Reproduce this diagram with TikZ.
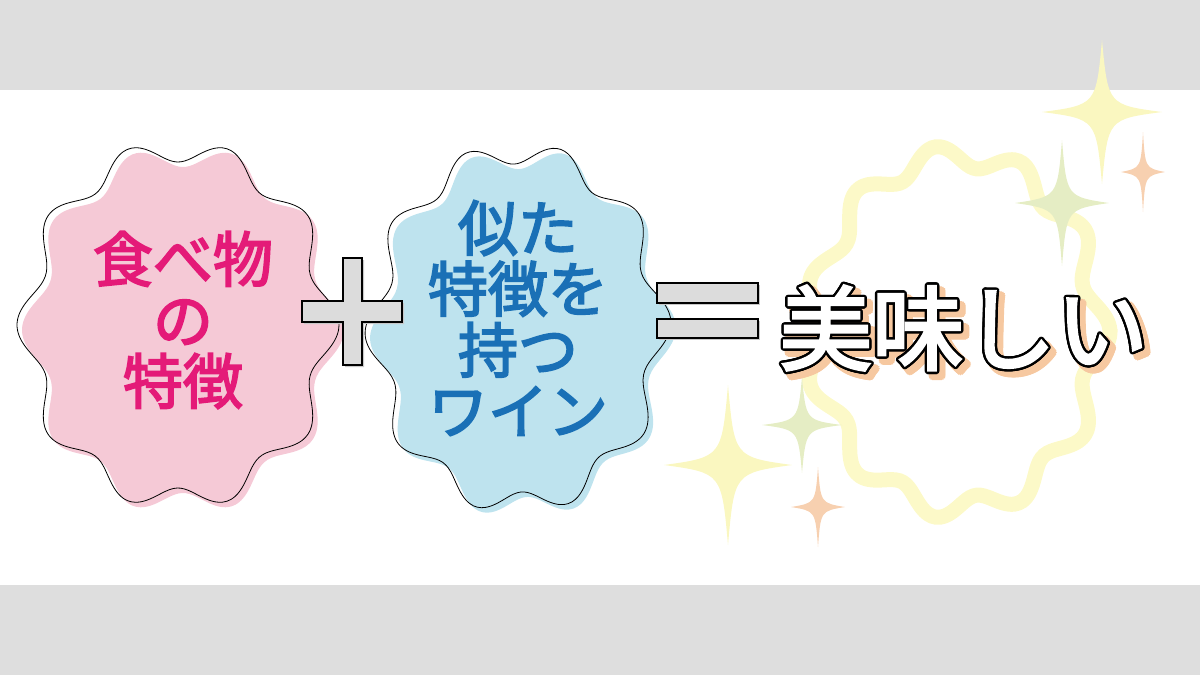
\documentclass[tikz,border=0pt]{standalone}
\usepackage{fontspec}
\newfontfamily\jp{Noto Sans CJK JP}
\newfontfamily\jpmid[FakeBold=3]{Noto Sans CJK JP}
\usetikzlibrary{positioning}
\definecolor{bandgray}{RGB}{222,222,222}
\definecolor{pinkfill}{RGB}{245,201,214}
\definecolor{pinktext}{RGB}{228,26,120}
\definecolor{bluefill}{RGB}{190,227,238}
\definecolor{bluetext}{RGB}{26,112,182}
\definecolor{signgray}{RGB}{220,220,220}
\definecolor{signshadow}{RGB}{200,200,200}
\definecolor{ringyellow}{RGB}{252,249,200}
\definecolor{sparkyellow}{RGB}{250,247,192}
\definecolor{sparkgreen}{RGB}{229,237,196}
\definecolor{sparkorange}{RGB}{247,208,176}
\definecolor{tastyshadow}{RGB}{246,200,160}

\tikzset{
  blobtext/.style={font=\jpmid\fontsize{60}{61}\selectfont, align=center, inner sep=0pt},
  tastytext/.style={font=\jpmid\fontsize{92}{96}\selectfont, inner sep=0pt},
  signbox/.style={fill=signgray, draw=black, line width=1.6pt},
  blobline/.style={draw=black, line width=0.8pt},
  sparkle/.pic={
    \fill (0,-1) .. controls (0.1,-0.1) .. (1,0) .. controls (0.1,0.1) .. (0,1)
      .. controls (-0.1,0.1) .. (-1,0) .. controls (-0.1,-0.1) .. cycle;
  }
}

\begin{document}
\begin{tikzpicture}[x=1pt,y=-1pt]
  \useasboundingbox (0,0) rectangle (1200,675);
  \fill[bandgray] (0,0) rectangle (1200,90);
  \fill[bandgray] (0,585) rectangle (1200,675);

  % wavy ring behind the result
  \draw[ringyellow, line width=15pt, domain=0:360, samples=240, smooth]
    plot ({957+(142+11*cos(11*\x))*cos(\x)}, {332+(176+11*cos(11*\x))*sin(\x)}) -- cycle;

  % sparkles
  \pic[color=sparkyellow, xscale=60, yscale=72] at (1102,112) {sparkle};
  \pic[color=sparkorange, xscale=22, yscale=40] at (1143,172) {sparkle};
  \pic[color=sparkgreen, xscale=47, yscale=63] at (1062,203) {sparkle};
  \pic[color=sparkgreen, xscale=40, yscale=48] at (802,425) {sparkle};
  \pic[color=sparkyellow, xscale=64, yscale=80] at (728,465) {sparkle};
  \pic[color=sparkorange, xscale=27, yscale=40] at (818,507) {sparkle};

  % food blob
  \fill[pinkfill, shift={(5,5)}, domain=0:360, samples=240, smooth]
    plot ({178+(150+11*cos(10*\x))*cos(\x)}, {325+(174+11*cos(10*\x))*sin(\x)}) -- cycle;
  \draw[blobline, domain=0:360, samples=240, smooth]
    plot ({178+(150+11*cos(10*\x))*cos(\x)}, {325+(174+11*cos(10*\x))*sin(\x)}) -- cycle;
  \node[blobtext, text=pinktext] (food) at (183,320) {食べ物\\の\\特徴};

  % wine blob
  \fill[bluefill, shift={(5,5)}, domain=0:360, samples=240, smooth]
    plot ({518+(142+11*cos(10*\x+18))*cos(\x)}, {328+(175+11*cos(10*\x+18))*sin(\x)}) -- cycle;
  \draw[blobline, domain=0:360, samples=240, smooth]
    plot ({518+(142+11*cos(10*\x+18))*cos(\x)}, {328+(175+11*cos(10*\x+18))*sin(\x)}) -- cycle;
  \node[blobtext, text=bluetext] (wine) at (518,318) {似た\\特徴を\\持つ\\ワイン};

  % plus
  \fill[signshadow, shift={(2,2)}] (343,258) -- (362,258) -- (362,301) -- (402,301) -- (402,322)
    -- (362,322) -- (362,365) -- (343,365) -- (343,322) -- (302,322) -- (302,301) -- (343,301) -- cycle;
  \draw[signbox] (343,258) -- (362,258) -- (362,301) -- (402,301) -- (402,322)
    -- (362,322) -- (362,365) -- (343,365) -- (343,322) -- (302,322) -- (302,301) -- (343,301) -- cycle;

  % equals
  \fill[signshadow] (659,285) rectangle (760,305);
  \fill[signshadow] (659,321) rectangle (760,340);
  \draw[signbox] (657,283) rectangle (758,303);
  \draw[signbox] (657,319) rectangle (758,338);

  % result text
  \coordinate (tastyc) at (964,328);
  \coordinate (shadowc) at (969,333);
  \foreach \a in {0,30,...,330} {
    \node[tastytext, text=tastyshadow] (tastys\a) at ([shift={(\a:3.5)}]shadowc) {美味しい};
  }
  \foreach \a in {0,20,...,340} {
    \node[tastytext, text=black] (tastyo\a) at ([shift={(\a:2.4)}]tastyc) {美味しい};
  }
  \node[tastytext, text=white] (tasty) at (tastyc) {美味しい};
\end{tikzpicture}
\end{document}
